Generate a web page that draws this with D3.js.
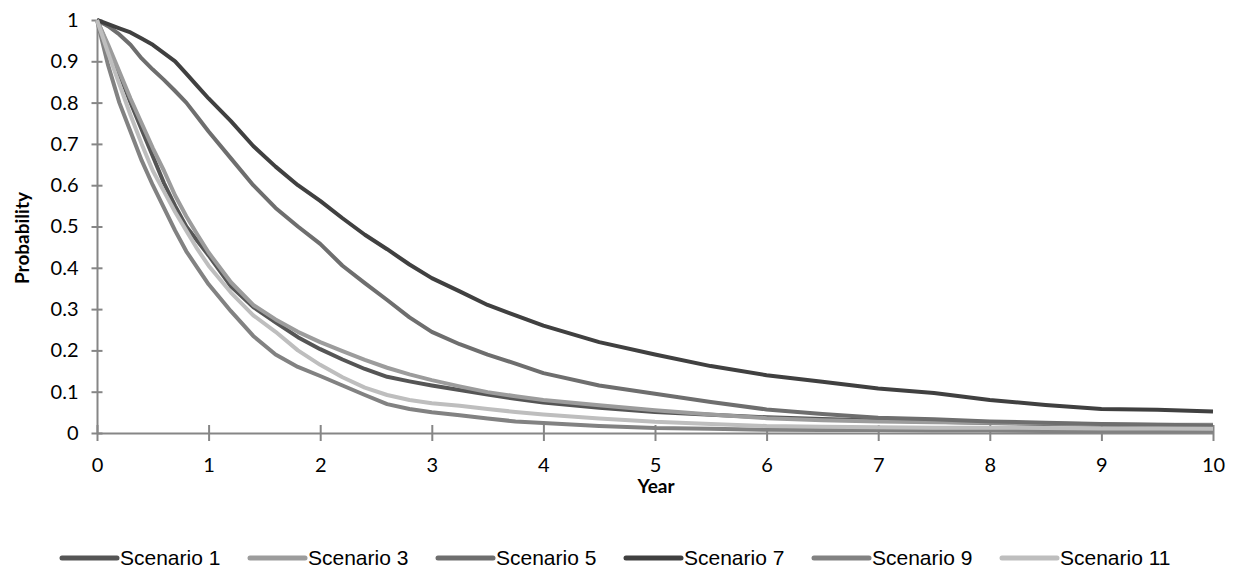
<!DOCTYPE html>
<html lang="en">
<head>
  <meta charset="UTF-8">
  <title>Survival probability by scenario</title>
  <style>
    html,
    body {
      margin: 0;
      padding: 0;
      background: #fff;
    }

    svg text {
      font-family: "Liberation Sans", Arial, sans-serif;
    }
  </style>
</head>
<body>
<div id="chart"></div>

<script src="https://d3js.org/d3.v7.min.js"></script>
<script>
  const years = [0, 0.1, 0.2, 0.3, 0.4, 0.5, 0.6, 0.7, 0.8, 0.9, 1, 1.2, 1.4, 1.6, 1.8, 2, 2.2, 2.4, 2.6, 2.8, 3,
    3.25, 3.5, 3.75, 4, 4.5, 5, 5.5, 6, 6.5, 7, 7.5, 8, 8.5, 9, 9.5, 10];

  const scenario1 = [1, 0.935, 0.87, 0.8, 0.735, 0.67, 0.605, 0.55, 0.5, 0.465, 0.43, 0.355, 0.305, 0.268, 0.232, 0.203, 0.178, 0.155, 0.136, 0.125, 0.115,
    0.104, 0.093, 0.083, 0.074, 0.061, 0.051, 0.044, 0.038, 0.034, 0.03, 0.027, 0.024, 0.022, 0.02, 0.018, 0.017];
  const scenario3 = [1, 0.94, 0.875, 0.81, 0.75, 0.69, 0.635, 0.575, 0.525, 0.48, 0.437, 0.365, 0.31, 0.275, 0.245, 0.22, 0.198, 0.177, 0.158, 0.142, 0.128,
    0.113, 0.099, 0.089, 0.08, 0.067, 0.055, 0.045, 0.036, 0.031, 0.028, 0.026, 0.025, 0.023, 0.021, 0.02, 0.02];
  const scenario5 = [1, 0.985, 0.965, 0.94, 0.907, 0.88, 0.855, 0.828, 0.8, 0.765, 0.73, 0.665, 0.6, 0.545, 0.5, 0.458, 0.405, 0.363, 0.322, 0.28, 0.245,
    0.215, 0.19, 0.168, 0.145, 0.115, 0.095, 0.075, 0.057, 0.046, 0.037, 0.033, 0.028, 0.025, 0.022, 0.02, 0.018];
  const scenario7 = [1, 0.99, 0.98, 0.97, 0.955, 0.94, 0.92, 0.9, 0.87, 0.84, 0.81, 0.755, 0.695, 0.645, 0.6, 0.562, 0.52, 0.48, 0.445, 0.408, 0.375,
    0.343, 0.31, 0.285, 0.26, 0.22, 0.19, 0.162, 0.14, 0.124, 0.108, 0.097, 0.08, 0.068, 0.058, 0.056, 0.052];
  const scenario9 = [1, 0.89, 0.8, 0.73, 0.66, 0.6, 0.545, 0.49, 0.44, 0.4, 0.36, 0.295, 0.235, 0.19, 0.16, 0.138, 0.115, 0.092, 0.07, 0.058, 0.05,
    0.043, 0.035, 0.028, 0.024, 0.017, 0.012, 0.01, 0.008, 0.007, 0.007, 0.006, 0.006, 0.005, 0.005, 0.005, 0.005];
  const scenario11 = [1, 0.92, 0.845, 0.77, 0.7, 0.635, 0.585, 0.535, 0.49, 0.445, 0.405, 0.34, 0.285, 0.245, 0.2, 0.165, 0.135, 0.11, 0.092, 0.08, 0.072,
    0.066, 0.058, 0.051, 0.045, 0.035, 0.027, 0.022, 0.017, 0.015, 0.014, 0.013, 0.013, 0.012, 0.011, 0.011, 0.01];

  const seriesNames = ['Scenario 1', 'Scenario 3', 'Scenario 5', 'Scenario 7', 'Scenario 9', 'Scenario 11'];
  const seriesValues = [scenario1, scenario3, scenario5, scenario7, scenario9, scenario11];
  const seriesColors = ['#555555', '#9c9c9c', '#6e6e6e', '#404040', '#828282', '#bebebe'];

  const xTicks = [0, 1, 2, 3, 4, 5, 6, 7, 8, 9, 10];
  const yTicks = [0, 0.1, 0.2, 0.3, 0.4, 0.5, 0.6, 0.7, 0.8, 0.9, 1];

  const width = 1239;
  const height = 571;
  const plot = { left: 97, right: 1213, top: 20, bottom: 433 };
  const axisColor = '#868686';
  const labelFont = 'Lato, "Open Sans", sans-serif';

  const x = d3.scaleLinear().domain([0, 10]).range([plot.left, plot.right]);
  const y = d3.scaleLinear().domain([0, 1]).range([plot.bottom, plot.top]);

  const svg = d3.select('#chart').append('svg')
    .attr('width', width)
    .attr('height', height);

  // axes with ticks crossing the line, Excel style
  const yAxis = svg.append('g')
    .attr('transform', `translate(${plot.left},0)`)
    .call(d3.axisLeft(y).tickValues(yTicks).tickFormat(d3.format('')).tickSizeInner(5.5).tickSizeOuter(0).tickPadding(13));
  yAxis.selectAll('.tick line').attr('x1', 5.5);

  const xAxis = svg.append('g')
    .attr('transform', `translate(0,${plot.bottom})`)
    .call(d3.axisBottom(x).tickValues(xTicks).tickFormat(d3.format('d')).tickSizeInner(8).tickSizeOuter(0).tickPadding(17));
  xAxis.selectAll('.tick line').attr('y1', -8);

  [yAxis, xAxis].forEach(g => {
    g.select('.domain').attr('stroke', axisColor).attr('stroke-width', 2);
    g.selectAll('.tick line').attr('stroke', axisColor).attr('stroke-width', 2);
    g.selectAll('.tick text')
      .attr('fill', '#000')
      .style('font-family', labelFont)
      .style('font-size', '20px');
  });

  // curves
  const line = d3.line()
    .x((d, i) => x(years[i]))
    .y(d => y(d));

  svg.append('g')
    .selectAll('path')
    .data(seriesValues)
    .join('path')
    .attr('fill', 'none')
    .attr('stroke', (d, i) => seriesColors[i])
    .attr('stroke-width', 4)
    .attr('stroke-linejoin', 'round')
    .attr('d', line);

  // axis titles
  svg.append('text')
    .attr('transform', 'translate(29,192) rotate(-90)')
    .attr('text-anchor', 'end')
    .style('font-family', labelFont)
    .style('font-weight', 'bold')
    .style('font-size', '19px')
    .text('Probability');

  svg.append('text')
    .attr('x', 656)
    .attr('y', 493)
    .attr('text-anchor', 'middle')
    .style('font-family', labelFont)
    .style('font-weight', 'bold')
    .style('font-size', '19px')
    .text('Year');

  // legend
  const legendX = d3.scalePoint().domain(seriesNames).range([62, 1002]);
  const legend = svg.append('g')
    .selectAll('g')
    .data(seriesNames)
    .join('g')
    .attr('transform', d => `translate(${legendX(d)},558)`);

  legend.append('line')
    .attr('x1', 0)
    .attr('x2', 55)
    .attr('stroke', (d, i) => seriesColors[i])
    .attr('stroke-width', 5)
    .attr('stroke-linecap', 'round');

  legend.append('text')
    .attr('x', 58)
    .attr('dy', '0.35em')
    .style('font-size', '21px')
    .text(d => d);
</script>
</body>
</html>
